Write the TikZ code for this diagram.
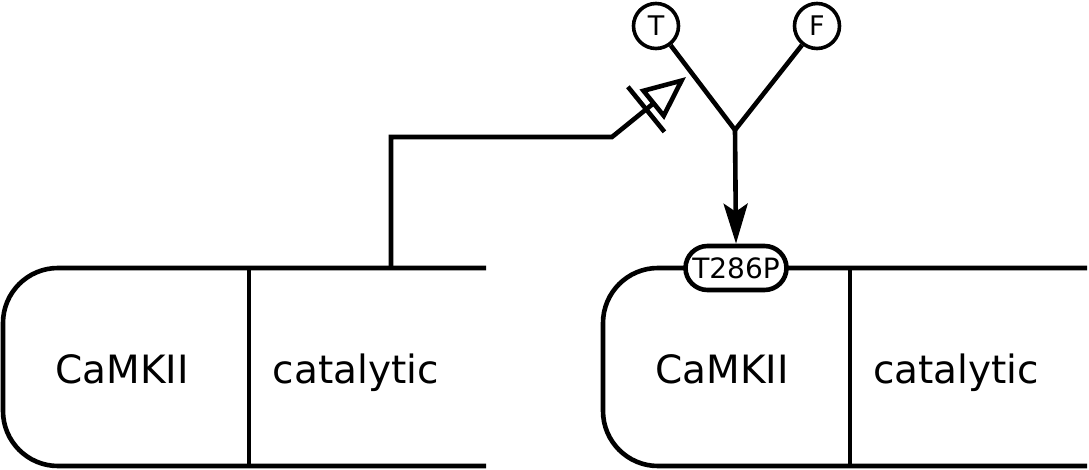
\documentclass[tikz,border=0pt]{standalone}
\usepackage{fontspec}
\setmainfont{DejaVu Sans}
\usetikzlibrary{arrows.meta}
\begin{document}
\begin{tikzpicture}[x=1pt,y=-1pt,
  outl/.style={line width=4.6pt},
  lbl/.style={font=\fontsize{39}{42}\selectfont, anchor=base, inner sep=0pt},
  statevar/.style={circle, draw, line width=3.6pt, minimum size=45pt, inner sep=0pt, fill=white, font=\fontsize{27}{30}\selectfont},
  tagbox/.style={draw, line width=4.6pt, fill=white, rounded corners=22pt, minimum width=101pt, minimum height=44pt, inner sep=0pt, font=\fontsize{28}{30}\selectfont},
  stimtip/.style={-{Bar[width=58pt,sep=5pt]Triangle[open,length=44pt,width=38pt]}},
  fillarrow/.style={-{Stealth[length=40pt,width=24pt,inset=8pt]}}
]
\useasboundingbox (0,0) rectangle (1089,470);

% left glyph
\draw[outl, rounded corners=55pt] (486,268) -- (3,268) -- (3,466) -- (486,466);
\draw[outl] (249,268) -- (249,466);
\node[lbl] (c1) at (122,383) {CaMKII};
\node[lbl] (k1) at (356,383) {catalytic};

% right glyph
\draw[outl, rounded corners=55pt] (1087,268) -- (603,268) -- (603,466) -- (1087,466);
\draw[outl] (850,268) -- (850,466);
\node[lbl] (c2) at (722,383) {CaMKII};
\node[lbl] (k2) at (956,383) {catalytic};
\node[tagbox] (tag) at (736,268) {T286P};

% logic / state variables
\node[statevar] (T) at (656,26) {T};
\node[statevar] (F) at (817,26) {F};
\coordinate (J) at (735,130);
\draw[outl] (T) -- (J) -- (F);
\draw[outl, fillarrow] (J) -- (tag.north);

% stimulation connector
\coordinate (p0) at (391,268);
\coordinate (p1) at (391,137);
\coordinate (p2) at (612,137);
\coordinate (p3) at (686,77);
\draw[outl, stimtip] (p0) -- (p1) -- (p2) -- (p3);
\end{tikzpicture}
\end{document}
